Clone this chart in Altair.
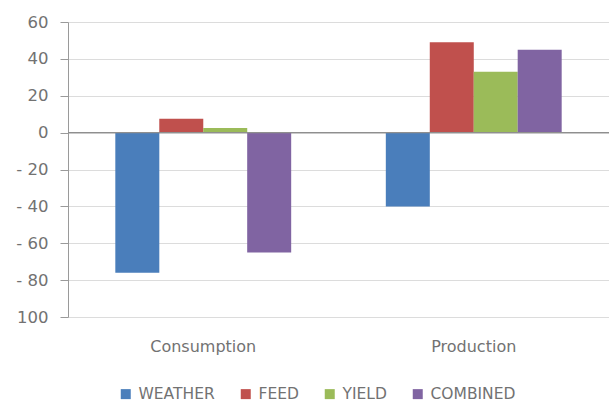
import altair as alt
import pandas as pd

# Change by scenario component, per category
categories = ["Consumption", "Production"]
series = ["WEATHER", "FEED", "YIELD", "COMBINED"]
consumption = [-76, 7.5, 2.5, -65]
production = [-40, 49, 33, 45]
colors = ["#4A7EBB", "#C0504D", "#9BBB59", "#8064A2"]
y_ticks = [60, 40, 20, 0, -20, -40, -60, -80, -100]

rows = []
for cat, vals in zip(categories, [consumption, production]):
    for s, v in zip(series, vals):
        rows.append({"category": cat, "series": s, "value": v})
df = pd.DataFrame(rows)

font = "DejaVu Sans"
text_color = "#727272"

y_scale = alt.Scale(domain=[-100, 60], nice=False)
y_axis = alt.Axis(
    title=None, values=y_ticks, labelOverlap=False,
    labelExpr="datum.value == -100 ? '100' : (datum.value < 0 ? '- ' + abs(datum.value) : datum.label)",
    labelFont=font, labelFontSize=16.5, labelColor=text_color,
    labelPadding=12, tickSize=8, tickColor="#9a9a9a",
    domainColor="#9a9a9a", gridColor="#dcdcdc", gridWidth=1.2,
)

bars = alt.Chart(df).mark_bar(size=44).encode(
    x=alt.X(
        "category:N",
        sort=categories,
        scale=alt.Scale(paddingInner=0.35, paddingOuter=0.175),
        axis=alt.Axis(
            title=None, labelAngle=0, ticks=False, domain=False,
            labelFont=font, labelFontSize=16, labelColor=text_color,
            labelPadding=21, grid=False,
        ),
    ),
    xOffset=alt.XOffset("series:N", sort=series),
    y=alt.Y("value:Q", scale=y_scale, axis=y_axis),
    color=alt.Color(
        "series:N",
        sort=series,
        scale=alt.Scale(domain=series, range=colors),
        legend=alt.Legend(
            title=None, orient="none", direction="horizontal",
            legendX=50, legendY=364, symbolType="square",
            symbolSize=100, symbolStrokeWidth=0, labelFont=font,
            labelFontSize=15.5, labelColor=text_color, columnPadding=23,
            labelOffset=5,
        ),
    ),
)

# darker baseline at zero
zero = alt.Chart(pd.DataFrame({"value": [0]})).mark_rule(
    color="#8f8f8f", strokeWidth=1.3
).encode(y=alt.Y("value:Q", scale=y_scale, axis=y_axis))

chart = alt.layer(bars, zero).properties(
    width=541,
    height=295,
    padding={"left": 68, "top": 22, "right": 0, "bottom": 88},
    autosize=alt.AutoSizeParams(type="none"),
    background="white",
).configure_view(stroke=None).configure_axis(labelOverlap=False)

chart.save("out.html", embed_options={"renderer": "svg", "actions": False})
